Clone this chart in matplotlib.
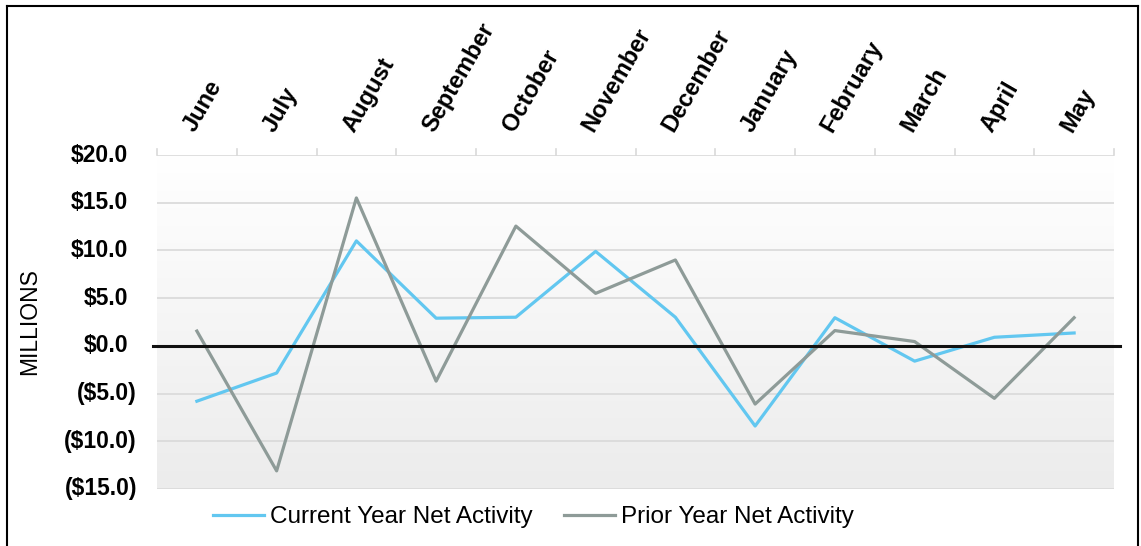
import numpy as np
import matplotlib
matplotlib.use("Agg")
import matplotlib.pyplot as plt
from matplotlib.lines import Line2D
import matplotlib.transforms as mtransforms

plt.rcParams['font.family'] = ['Liberation Sans', 'DejaVu Sans']

# data (millions)
months = ["June", "July", "August", "September", "October", "November",
          "December", "January", "February", "March", "April", "May"]
current_year = [-5.8, -2.85, 11.0, 2.9, 3.0, 9.9, 3.0, -8.4, 2.95, -1.6, 0.9, 1.35]
prior_year = [1.55, -13.1, 15.5, -3.7, 12.55, 5.5, 9.0, -6.1, 1.6, 0.45, -5.5, 2.95]
y_ticks = [20, 15, 10, 5, 0, -5, -10, -15]
y_labels = ["$20.0", "$15.0", "$10.0", "$5.0", "$0.0", "($5.0)", "($10.0)", "($15.0)"]

W, H = 1141, 546
fig = plt.figure(figsize=(W / 100, H / 100), dpi=100)
ax = fig.add_axes([157 / W, 1 - 489 / H, (1114 - 157) / W, (489 - 155) / H])

x = np.arange(len(months))
ax.set_xlim(-0.5, len(months) - 0.5)
ax.set_ylim(-15, 20)

# gradient background
grad = np.linspace(0, 1, 256).reshape(-1, 1)
ax.imshow(grad, extent=[0, 1, 0, 1], transform=ax.transAxes, aspect='auto',
          cmap=matplotlib.colors.LinearSegmentedColormap.from_list('bg', ['#ECECEC', '#FFFFFF']),
          origin='lower', zorder=0)

for v in y_ticks:
    ax.axhline(v, color='#D9D9D9', lw=1.2, zorder=1)

ax.plot(x, current_year, color='#62C7F0', lw=2.3, zorder=3, label='Current Year Net Activity')
ax.plot(x, prior_year, color='#8E9B98', lw=2.3, zorder=3, label='Prior Year Net Activity')
ax.axhline(0, xmin=-0.004, xmax=1.006, color='#111111', lw=2.2, zorder=4, clip_on=False)

for s in ['left', 'right', 'bottom', 'top']:
    ax.spines[s].set_visible(False)
ax.set_xticks([])
ax.set_yticks([])

# top category ticks
trans_top = mtransforms.blended_transform_factory(ax.transData, ax.transAxes)
for b in np.arange(-0.5, len(months), 1.0):
    ax.plot([b, b], [1.0, 1.018], color='#D9D9D9', lw=1.2, transform=trans_top, clip_on=False)

# month labels above the plot
for i, m in enumerate(months):
    ax.text(i - 0.1, 1 + 25 / 334, m, transform=trans_top, rotation=60,
            rotation_mode='anchor', ha='left', va='center', fontsize=17,
            fontweight='bold')

# y labels, negatives hang to the right like accounting format
trans_y = mtransforms.blended_transform_factory(ax.transAxes, ax.transData)
for v, lab in zip(y_ticks, y_labels):
    xr = -29 / 957 if v >= 0 else -20 / 957
    ax.text(xr, v, lab, transform=trans_y, ha='right', va='center',
            fontsize=16.5, fontweight='bold')

fig.text(30 / W, 1 - 322 / H, "MILLIONS", rotation=90, ha='center', va='center', fontsize=16.5)

fig.legend(loc='center', bbox_to_anchor=(533.5 / W, 1 - 517 / H), ncol=2, frameon=False,
           fontsize=17.5, handlelength=2.1, handletextpad=0.25, columnspacing=1.3)

# outer frame
for xs, ys in [([7, 1138], [6, 6]), ([1138, 1138], [6, 546]), ([7, 7], [6, 546])]:
    fig.add_artist(Line2D([p / W for p in xs], [1 - p / H for p in ys], color='black', lw=1.5))

fig.savefig("out.png", dpi=100)
